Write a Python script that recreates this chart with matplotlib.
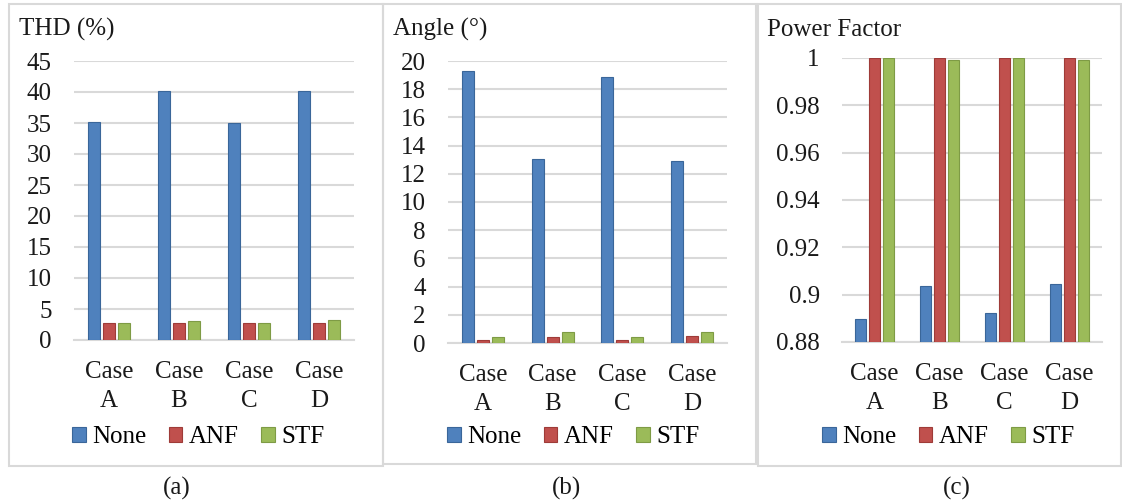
import numpy as np
import matplotlib
matplotlib.use("Agg")
import matplotlib.pyplot as plt
from matplotlib.patches import Rectangle, Patch
from matplotlib.ticker import FormatStrFormatter, FuncFormatter

cases = ['Case\nA', 'Case\nB', 'Case\nC', 'Case\nD']
series = ['None', 'ANF', 'STF']
colors = ['#4F81BD', '#C0504D', '#9BBB59']
edges = ['#3A6699', '#9E3B38', '#7E9B45']

thd_none = [35.2, 40.2, 35.0, 40.2]
thd_anf = [2.7, 2.7, 2.7, 2.7]
thd_stf = [2.8, 3.0, 2.8, 3.2]

angle_none = [19.3, 13.07, 18.9, 12.93]
angle_anf = [0.2, 0.4, 0.2, 0.5]
angle_stf = [0.4, 0.78, 0.4, 0.78]

pf_none = [0.8896, 0.9037, 0.8924, 0.9045]
pf_anf = [0.9999, 0.9999, 0.9999, 0.9999]
pf_stf = [0.9998, 0.9993, 0.9998, 0.9993]

plt.rcParams['font.family'] = ['Liberation Serif', 'DejaVu Serif']
plt.rcParams['font.size'] = 18

W, H = 1122, 501
fig = plt.figure(figsize=(W / 100, H / 100), dpi=100)


def rect(x0, y0, x1, y1):
    # pixel box (top-left origin) -> figure fraction
    return [x0 / W, 1 - y1 / H, (x1 - x0) / W, (y1 - y0) / H]


# panel frames
for x0, y0, x1, y1 in [(9, 4, 383, 466), (383, 4, 756, 464), (758, 4, 1121, 466)]:
    fig.patches.append(Rectangle((x0 / W, 1 - y1 / H), (x1 - x0) / W, (y1 - y0) / H,
                                 transform=fig.transFigure, fill=False,
                                 edgecolor='#d9d9d9', linewidth=1.5))

panels = [
    dict(box=(74, 61, 354, 340), data=[thd_none, thd_anf, thd_stf], ylim=(0, 45), step=5,
         fmt=FormatStrFormatter('%d'), title='THD (%)', tx=19, ty=29, leg=198, cap='(a)', cx=177),
    dict(box=(448, 61, 727, 343), data=[angle_none, angle_anf, angle_stf], ylim=(0, 20), step=2,
         fmt=FormatStrFormatter('%d'), title='Angle (°)', tx=393, ty=29, leg=573, cap='(b)', cx=566),
    dict(box=(842, 58, 1102, 342), data=[pf_none, pf_anf, pf_stf], ylim=(0.88, 1.0), step=0.02,
         fmt=FuncFormatter(lambda v, p: '%g' % round(v, 2)), title='Power Factor', tx=767, ty=30,
         leg=948, cap='(c)', cx=957),
]

x = np.arange(len(cases))
offsets = [-0.215, 0, 0.215]
width = 0.175

for p in panels:
    ax = fig.add_axes(rect(*p['box']))
    for vals, off, c, e, name in zip(p['data'], offsets, colors, edges, series):
        ax.bar(x + off, np.array(vals) - p['ylim'][0], width, bottom=p['ylim'][0],
               color=c, edgecolor=e, linewidth=0.8, label=name, zorder=3)
    ax.set_xlim(-0.5, 3.5)
    ax.set_ylim(*p['ylim'])
    ax.set_yticks(np.arange(p['ylim'][0], p['ylim'][1] + p['step'] / 2, p['step']))
    ax.yaxis.set_major_formatter(p['fmt'])
    ax.set_xticks(x)
    ax.set_xticklabels(cases, linespacing=1.4)
    ax.grid(axis='y', color='#d9d9d9', linewidth=1.5, zorder=0)
    for s in ['top', 'right', 'left']:
        ax.spines[s].set_visible(False)
    ax.spines['bottom'].set_color('#d9d9d9')
    ax.spines['bottom'].set_linewidth(1.5)
    ax.tick_params(axis='y', length=0, pad=16, labelcolor='#1a1a1a')
    ax.tick_params(axis='x', length=0, pad=15, labelcolor='#1a1a1a')

    fig.text(p['tx'] / W, 1 - p['ty'] / H, p['title'], ha='left', va='center', color='#1a1a1a')
    handles = [Patch(facecolor=c, edgecolor=e, linewidth=0.8) for c, e in zip(colors, edges)]
    fig.legend(handles, series, loc='center', bbox_to_anchor=(p['leg'] / W, 1 - 437 / H),
               ncol=3, frameon=False, handlelength=0.55, handleheight=0.55,
               handletextpad=0.25, columnspacing=0.9, borderpad=0)
    fig.text(p['cx'] / W, 1 - 488 / H, p['cap'], ha='center', va='center', color='#1a1a1a')

plt.savefig('out.png', dpi=100)
